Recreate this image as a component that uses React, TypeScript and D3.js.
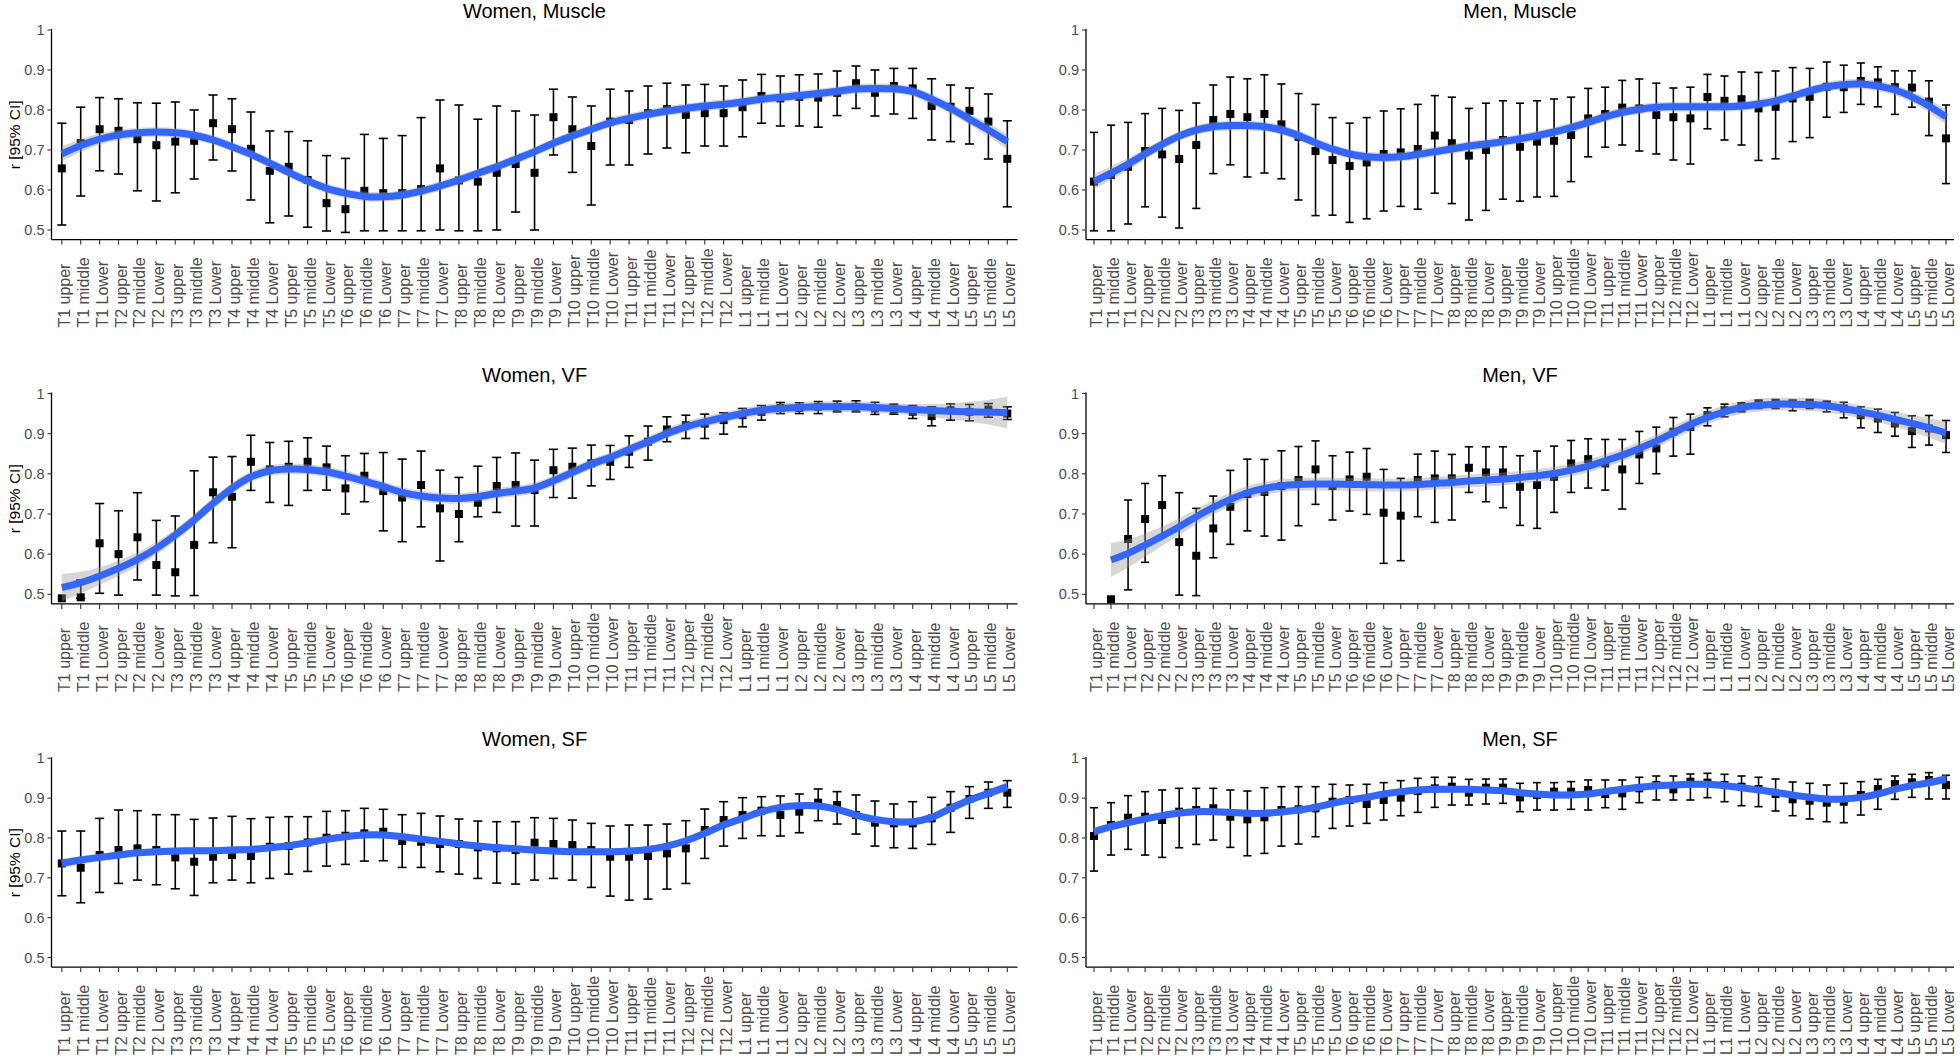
import React from "react";
import * as d3 from "d3";

const categories = [
  "T1 upper", "T1 middle", "T1 Lower", "T2 upper", "T2 middle", "T2 Lower",
  "T3 upper", "T3 middle", "T3 Lower", "T4 upper", "T4 middle", "T4 Lower",
  "T5 upper", "T5 middle", "T5 Lower", "T6 upper", "T6 middle", "T6 Lower",
  "T7 upper", "T7 middle", "T7 Lower", "T8 upper", "T8 middle", "T8 Lower",
  "T9 upper", "T9 middle", "T9 Lower", "T10 upper", "T10 middle", "T10 Lower",
  "T11 upper", "T11 middle", "T11 Lower", "T12 upper", "T12 middle", "T12 Lower",
  "L1 upper", "L1 middle", "L1 Lower", "L2 upper", "L2 middle", "L2 Lower",
  "L3 upper", "L3 middle", "L3 Lower", "L4 upper", "L4 middle", "L4 Lower",
  "L5 upper", "L5 middle", "L5 Lower",
];

const yTickValues = [0.5, 0.6, 0.7, 0.8, 0.9, 1];
const yTickLabels = ["0.5", "0.6", "0.7", "0.8", "0.9", "1"];
const yAxisTitle = "r [95% CI]";

// ---------- Women, Muscle ----------
const womenMuscleR = [
  0.654, 0.717, 0.752, 0.748, 0.727, 0.712, 0.721, 0.723, 0.767, 0.752,
  0.703, 0.648, 0.658, 0.625, 0.567, 0.552, 0.598, 0.592, 0.592, 0.602,
  0.654, 0.624, 0.621, 0.643, 0.665, 0.643, 0.782, 0.752, 0.71, 0.771,
  0.775, 0.792, 0.802, 0.788, 0.792, 0.792, 0.807, 0.835, 0.829, 0.833,
  0.831, 0.843, 0.867, 0.843, 0.86, 0.854, 0.81, 0.808, 0.798, 0.771,
  0.678,
];
const womenMuscleLo = [
  0.5125, 0.585, 0.648, 0.64, 0.598, 0.5725, 0.593, 0.6275, 0.675, 0.6475,
  0.575, 0.518, 0.535, 0.507, 0.4975, 0.494, 0.498, 0.498, 0.498, 0.498,
  0.5, 0.498, 0.498, 0.5, 0.545, 0.5, 0.6875, 0.644, 0.5625, 0.6625,
  0.6625, 0.69, 0.705, 0.693, 0.71, 0.71, 0.733, 0.767, 0.76, 0.76,
  0.757, 0.786, 0.804, 0.785, 0.79, 0.779, 0.725, 0.721, 0.715, 0.6775,
  0.558,
];
const womenMuscleHi = [
  0.767, 0.807, 0.831, 0.828, 0.818, 0.817, 0.82, 0.8, 0.8375, 0.828,
  0.795, 0.7475, 0.746, 0.723, 0.686, 0.679, 0.739, 0.729, 0.736, 0.781,
  0.825, 0.8125, 0.777, 0.81, 0.7975, 0.7875, 0.852, 0.8325, 0.81, 0.852,
  0.8475, 0.86, 0.867, 0.8625, 0.864, 0.86, 0.875, 0.889, 0.885, 0.888,
  0.89, 0.8975, 0.91, 0.9, 0.904, 0.904, 0.878, 0.8625, 0.855, 0.84,
  0.773,
];
const womenMuscleFit = [
  0.69, 0.711, 0.727, 0.7375, 0.743, 0.745, 0.743, 0.737, 0.725, 0.708,
  0.689, 0.667, 0.644, 0.6225, 0.604, 0.592, 0.584, 0.583, 0.5875, 0.597,
  0.61, 0.625, 0.642, 0.658, 0.677, 0.696, 0.717, 0.735, 0.752, 0.768,
  0.779, 0.789, 0.7975, 0.804, 0.81, 0.814, 0.82, 0.827, 0.832, 0.836,
  0.841, 0.847, 0.8525, 0.854, 0.853, 0.846, 0.827, 0.804, 0.777, 0.75,
  0.721,
];
const womenMuscleSe = [
  0.019, 0.016, 0.014, 0.013, 0.012, 0.012, 0.012, 0.012, 0.012, 0.012,
  0.012, 0.012, 0.012, 0.012, 0.012, 0.012, 0.012, 0.012, 0.012, 0.012,
  0.012, 0.012, 0.012, 0.012, 0.012, 0.012, 0.012, 0.012, 0.012, 0.012,
  0.012, 0.012, 0.012, 0.012, 0.012, 0.012, 0.012, 0.012, 0.012, 0.012,
  0.012, 0.012, 0.012, 0.012, 0.012, 0.012, 0.013, 0.013, 0.014, 0.016,
  0.019,
];

// ---------- Men, Muscle ----------
const menMuscleR = [
  0.621, 0.6375, 0.658, 0.6975, 0.689, 0.6775, 0.7125, 0.775, 0.79, 0.782,
  0.79, 0.764, 0.733, 0.6975, 0.675, 0.66, 0.669, 0.69, 0.694, 0.7025,
  0.736, 0.717, 0.686, 0.7, 0.725, 0.708, 0.721, 0.723, 0.7375, 0.779,
  0.79, 0.806, 0.804, 0.7875, 0.782, 0.779, 0.8325, 0.823, 0.827, 0.804,
  0.808, 0.829, 0.833, 0.858, 0.857, 0.8725, 0.869, 0.857, 0.856, 0.821,
  0.729,
];
const menMuscleLo = [
  0.498, 0.498, 0.515, 0.558, 0.532, 0.505, 0.554, 0.641, 0.663, 0.6325,
  0.6425, 0.628, 0.575, 0.536, 0.537, 0.519, 0.528, 0.5475, 0.559, 0.552,
  0.592, 0.566, 0.525, 0.549, 0.577, 0.572, 0.5825, 0.584, 0.621, 0.683,
  0.707, 0.7125, 0.6975, 0.69, 0.675, 0.665, 0.753, 0.725, 0.7125, 0.674,
  0.678, 0.721, 0.731, 0.782, 0.794, 0.814, 0.808, 0.789, 0.807, 0.736,
  0.616,
];
const menMuscleHi = [
  0.744, 0.762, 0.769, 0.791, 0.804, 0.799, 0.8175, 0.8625, 0.8825, 0.878,
  0.888, 0.865, 0.841, 0.814, 0.781, 0.767, 0.781, 0.7975, 0.803, 0.814,
  0.836, 0.832, 0.804, 0.817, 0.823, 0.817, 0.823, 0.8275, 0.832, 0.854,
  0.857, 0.874, 0.8775, 0.867, 0.855, 0.857, 0.889, 0.885, 0.895, 0.894,
  0.8975, 0.906, 0.904, 0.92, 0.912, 0.9175, 0.908, 0.898, 0.898, 0.873,
  0.8125,
];
const menMuscleFit = [
  0.621, 0.642, 0.665, 0.69, 0.714, 0.735, 0.75, 0.758, 0.761, 0.761,
  0.758, 0.75, 0.736, 0.718, 0.702, 0.69, 0.683, 0.681, 0.683, 0.689,
  0.696, 0.7025, 0.71, 0.715, 0.721, 0.728, 0.736, 0.745, 0.756, 0.769,
  0.783, 0.794, 0.802, 0.807, 0.808, 0.808, 0.808, 0.808, 0.81, 0.815,
  0.823, 0.835, 0.8475, 0.858, 0.864, 0.865, 0.86, 0.85, 0.833, 0.81,
  0.783,
];
const menMuscleSe = [
  0.02, 0.017, 0.015, 0.013, 0.012, 0.012, 0.012, 0.012, 0.012, 0.012,
  0.012, 0.012, 0.012, 0.012, 0.012, 0.012, 0.012, 0.012, 0.012, 0.012,
  0.012, 0.012, 0.012, 0.012, 0.012, 0.012, 0.012, 0.012, 0.012, 0.012,
  0.012, 0.012, 0.012, 0.012, 0.012, 0.012, 0.012, 0.012, 0.012, 0.012,
  0.012, 0.012, 0.012, 0.012, 0.012, 0.012, 0.013, 0.013, 0.014, 0.016,
  0.019,
];

// ---------- Women, VF ----------
const womenVfR = [
  0.49, 0.4925, 0.627, 0.6, 0.642, 0.573, 0.555, 0.623, 0.754, 0.743,
  0.83, 0.811, 0.8176, 0.83, 0.816, 0.7637, 0.7952, 0.757, 0.741, 0.772,
  0.714, 0.7, 0.728, 0.7695, 0.772, 0.7595, 0.809, 0.8176, 0.826, 0.83,
  0.855, 0.88, 0.9104, 0.921, 0.925, 0.9337, 0.946, 0.9544, 0.964, 0.964,
  0.9668, 0.9668, 0.9668, 0.9627, 0.96, 0.9544, 0.9436, 0.9585, 0.9544, 0.96,
  0.95,
];
const womenVfLo = [
  null, 0.49, 0.5025, 0.498, 0.5357, 0.498, 0.496, 0.497, 0.6285, 0.616,
  0.7587, 0.7288, 0.7214, 0.7587, 0.7595, 0.7, 0.7305, 0.658, 0.631, 0.668,
  0.583, 0.631, 0.693, 0.704, 0.67, 0.67, 0.741, 0.7396, 0.77, 0.786,
  0.816, 0.834, 0.88, 0.888, 0.888, 0.8988, 0.917, 0.9337, 0.95, 0.95,
  0.95, 0.9544, 0.9544, 0.948, 0.9486, 0.9378, 0.9196, 0.9337, 0.932, 0.941,
  0.9353,
];
const womenVfHi = [
  null, 0.5357, 0.726, 0.708, 0.753, 0.684, 0.695, 0.8076, 0.8416, 0.843,
  0.896, 0.878, 0.881, 0.8897, 0.869, 0.845, 0.8507, 0.853, 0.8366, 0.8566,
  0.809, 0.791, 0.819, 0.8408, 0.852, 0.834, 0.861, 0.864, 0.8715, 0.8706,
  0.8947, 0.919, 0.942, 0.946, 0.9486, 0.952, 0.9627, 0.97, 0.9776, 0.977,
  0.98, 0.981, 0.9818, 0.978, 0.9735, 0.97, 0.9668, 0.974, 0.9726, 0.975,
  0.9668,
];
const womenVfFit = [
  0.5166, 0.529, 0.5456, 0.5647, 0.587, 0.6144, 0.6476, 0.685, 0.7264, 0.7637,
  0.7927, 0.8076, 0.8118, 0.811, 0.805, 0.7944, 0.782, 0.768, 0.7537, 0.7446,
  0.7396, 0.7388, 0.743, 0.7512, 0.757, 0.7653, 0.7828, 0.8035, 0.8242, 0.8408,
  0.8607, 0.8798, 0.9005, 0.917, 0.9295, 0.9403, 0.9502, 0.9585, 0.9627, 0.9652,
  0.9668, 0.9668, 0.9668, 0.9652, 0.9627, 0.96, 0.9577, 0.956, 0.9544, 0.9536,
  0.952,
];
const womenVfSe = [
  0.034, 0.027, 0.022, 0.019, 0.017, 0.016, 0.015, 0.015, 0.014, 0.014,
  0.013, 0.013, 0.013, 0.013, 0.013, 0.013, 0.013, 0.013, 0.013, 0.013,
  0.013, 0.013, 0.013, 0.013, 0.013, 0.013, 0.013, 0.013, 0.013, 0.013,
  0.013, 0.013, 0.013, 0.013, 0.013, 0.013, 0.013, 0.013, 0.013, 0.013,
  0.013, 0.013, 0.013, 0.013, 0.013, 0.014, 0.016, 0.02, 0.025, 0.031,
  0.04,
];

// ---------- Men, VF ----------
const menVfR = [
  null, 0.4876, 0.6377, 0.6874, 0.7222, 0.63, 0.596, 0.664, 0.718, 0.7496,
  0.755, 0.7695, 0.7844, 0.811, 0.7695, 0.786, 0.7927, 0.7032, 0.6957, 0.7844,
  0.7886, 0.7886, 0.815, 0.8035, 0.8035, 0.7678, 0.772, 0.7927, 0.8259, 0.8366,
  0.8259, 0.811, 0.8483, 0.8632, 0.9047, 0.917, 0.946, 0.9585, 0.9668, 0.975,
  0.975, 0.975, 0.975, 0.971, 0.9627, 0.946, 0.9378, 0.9254, 0.9063, 0.913,
  0.8963,
];
const menVfLo = [
  null, null, 0.511, 0.5796, 0.645, 0.498, 0.4967, 0.591, 0.6244, 0.658,
  0.645, 0.635, 0.6708, 0.724, 0.685, 0.7073, 0.699, 0.5771, 0.5837, 0.6932,
  0.679, 0.685, 0.7537, 0.7305, 0.7156, 0.6716, 0.6642, 0.704, 0.7537, 0.7645,
  0.7595, 0.7123, 0.776, 0.8002, 0.8441, 0.849, 0.9196, 0.942, 0.9544, 0.9627,
  0.9627, 0.957, 0.9627, 0.9544, 0.9395, 0.9146, 0.903, 0.8938, 0.8657, 0.8715,
  0.8532,
];
const menVfHi = [
  null, null, 0.7347, 0.776, 0.7952, 0.753, 0.714, 0.7446, 0.8085, 0.8366,
  0.8358, 0.8574, 0.868, 0.882, 0.845, 0.854, 0.863, 0.811, 0.7886, 0.849,
  0.8566, 0.8483, 0.8673, 0.8673, 0.8673, 0.845, 0.8566, 0.869, 0.883, 0.8872,
  0.8856, 0.8856, 0.9055, 0.9162, 0.9403, 0.9486, 0.9643, 0.9735, 0.9768, 0.9834,
  0.985, 0.9834, 0.985, 0.981, 0.978, 0.9668, 0.961, 0.9527, 0.9444, 0.9453,
  0.9328,
];
const menVfFit = [
  null, 0.5854, 0.602, 0.6227, 0.645, 0.6683, 0.6932, 0.7164, 0.7363, 0.7529,
  0.7637, 0.7703, 0.7736, 0.7745, 0.7745, 0.7736, 0.7728, 0.772, 0.772, 0.7736,
  0.7761, 0.7786, 0.782, 0.7844, 0.787, 0.791, 0.7952, 0.801, 0.8093, 0.8192,
  0.8325, 0.8466, 0.8632, 0.8814, 0.9022, 0.9229, 0.9403, 0.9544, 0.9652, 0.971,
  0.9735, 0.9735, 0.9726, 0.9693, 0.9627, 0.9544, 0.946, 0.9353, 0.9254, 0.9146,
  0.9022,
];
const menVfSe = [
  null, 0.042, 0.035, 0.029, 0.024, 0.021, 0.019, 0.018, 0.017, 0.017,
  0.016, 0.016, 0.016, 0.016, 0.016, 0.016, 0.016, 0.016, 0.016, 0.016,
  0.016, 0.016, 0.016, 0.016, 0.016, 0.016, 0.016, 0.016, 0.016, 0.016,
  0.016, 0.016, 0.016, 0.016, 0.016, 0.016, 0.016, 0.016, 0.016, 0.016,
  0.016, 0.016, 0.016, 0.016, 0.016, 0.016, 0.017, 0.019, 0.021, 0.024,
  0.028,
];

// ---------- Women, SF ----------
const womenSfR = [
  0.736, 0.7253, 0.757, 0.7697, 0.7739, 0.7697, 0.7513, 0.7404, 0.7529, 0.757,
  0.7546, 0.778, 0.7797, 0.7889, 0.8007, 0.8057, 0.8116, 0.8157, 0.7923, 0.7906,
  0.7848, 0.7848, 0.7764, 0.7739, 0.7697, 0.7881, 0.7848, 0.7822, 0.7697, 0.7529,
  0.7529, 0.7546, 0.7613, 0.7739, 0.8199, 0.845, 0.8576, 0.8685, 0.8576, 0.866,
  0.8886, 0.8827, 0.8576, 0.8384, 0.8367, 0.8367, 0.8492, 0.876, 0.8978, 0.9137,
  0.9137,
];
const womenSfLo = [
  0.655, 0.6374, 0.6633, 0.686, 0.6943, 0.6826, 0.6725, 0.6558, 0.6876, 0.6943,
  0.6876, 0.6985, 0.7094, 0.7161, 0.7295, 0.7337, 0.742, 0.7429, 0.7261, 0.7261,
  0.7152, 0.7094, 0.6985, 0.6868, 0.6843, 0.6943, 0.6985, 0.6943, 0.6759, 0.6541,
  0.644, 0.6466, 0.6717, 0.6859, 0.7487, 0.7797, 0.799, 0.8057, 0.8049, 0.8132,
  0.8434, 0.835, 0.8099, 0.7797, 0.7755, 0.7739, 0.7839, 0.8141, 0.8492, 0.8744,
  0.8769,
];
const womenSfHi = [
  0.8174, 0.8174, 0.8492, 0.8702, 0.8685, 0.8585, 0.8585, 0.8467, 0.85, 0.8543,
  0.8484, 0.8518, 0.8534, 0.8534, 0.8668, 0.8685, 0.8744, 0.8719, 0.8585, 0.8618,
  0.8551, 0.8476, 0.8425, 0.8409, 0.8409, 0.8509, 0.8492, 0.8451, 0.8367, 0.83,
  0.8325, 0.8325, 0.835, 0.8434, 0.8727, 0.8911, 0.9012, 0.9037, 0.9054, 0.9104,
  0.923, 0.9163, 0.9079, 0.8928, 0.8853, 0.8911, 0.902, 0.9163, 0.9288, 0.9405,
  0.9439,
];
const womenSfFit = [
  0.7362, 0.7446, 0.7513, 0.7571, 0.763, 0.7655, 0.7672, 0.768, 0.768, 0.7697,
  0.7714, 0.7755, 0.7806, 0.7881, 0.7965, 0.8032, 0.8074, 0.8074, 0.8032, 0.7973,
  0.7915, 0.7848, 0.7797, 0.7755, 0.773, 0.7697, 0.7672, 0.7655, 0.7655, 0.7655,
  0.7672, 0.7714, 0.7797, 0.7931, 0.8116, 0.8325, 0.8492, 0.866, 0.8769, 0.8811,
  0.8802, 0.8719, 0.8576, 0.8467, 0.8409, 0.8409, 0.8518, 0.8744, 0.8953, 0.912,
  0.9288,
];
const womenSfSe = [
  0.012, 0.01, 0.009, 0.009, 0.009, 0.009, 0.009, 0.009, 0.009, 0.009,
  0.009, 0.009, 0.009, 0.009, 0.009, 0.009, 0.009, 0.009, 0.009, 0.009,
  0.009, 0.009, 0.009, 0.009, 0.009, 0.009, 0.009, 0.009, 0.009, 0.009,
  0.009, 0.009, 0.009, 0.009, 0.009, 0.009, 0.009, 0.009, 0.009, 0.009,
  0.009, 0.009, 0.009, 0.009, 0.009, 0.009, 0.009, 0.009, 0.009, 0.01,
  0.012,
];

// ---------- Men, SF ----------
const menSfR = [
  0.8049, 0.8325, 0.8509, 0.8534, 0.8451, 0.866, 0.8702, 0.8744, 0.8534, 0.8467,
  0.8518, 0.8702, 0.8719, 0.8744, 0.8911, 0.8953, 0.8853, 0.8953, 0.9012, 0.9179,
  0.9246, 0.9288, 0.9137, 0.9263, 0.9263, 0.902, 0.9079, 0.9163, 0.9163, 0.9204,
  0.9104, 0.912, 0.9246, 0.933, 0.9221, 0.9414, 0.9389, 0.933, 0.9288, 0.9229,
  0.9104, 0.897, 0.8936, 0.8886, 0.8911, 0.9079, 0.9229, 0.9355, 0.9397, 0.9456,
  0.933,
];
const menSfLo = [
  0.7169, 0.7571, 0.7714, 0.7571, 0.7513, 0.7755, 0.7839, 0.7948, 0.7764, 0.7554,
  0.7613, 0.7797, 0.7848, 0.8032, 0.8241, 0.83, 0.8367, 0.8451, 0.8559, 0.8643,
  0.8769, 0.8827, 0.8827, 0.8853, 0.887, 0.866, 0.8702, 0.8702, 0.8719, 0.8702,
  0.876, 0.8719, 0.8886, 0.8953, 0.8953, 0.8953, 0.9012, 0.8911, 0.8811, 0.8786,
  0.8677, 0.8559, 0.8476, 0.8409, 0.8384, 0.8576, 0.8719, 0.897, 0.902, 0.8978,
  0.8978,
];
const menSfHi = [
  0.876, 0.8886, 0.9062, 0.9163, 0.9204, 0.9246, 0.9246, 0.9246, 0.9204, 0.9179,
  0.9263, 0.9288, 0.9288, 0.9288, 0.9347, 0.933, 0.9347, 0.9389, 0.9439, 0.9497,
  0.9523, 0.9523, 0.9472, 0.948, 0.948, 0.9372, 0.9389, 0.9389, 0.9414, 0.9456,
  0.9456, 0.9456, 0.9523, 0.9556, 0.9556, 0.9606, 0.9623, 0.9598, 0.9556, 0.9523,
  0.948, 0.9405, 0.9372, 0.933, 0.9372, 0.9414, 0.9472, 0.9556, 0.9598, 0.964,
  0.9573,
];
const menSfFit = [
  0.8157, 0.8283, 0.8384, 0.8476, 0.856, 0.8626, 0.866, 0.866, 0.8643, 0.8618,
  0.8618, 0.8652, 0.8702, 0.8769, 0.8869, 0.8953, 0.902, 0.9104, 0.9163, 0.9204,
  0.9221, 0.9221, 0.9221, 0.9204, 0.9188, 0.9137, 0.9104, 0.9079, 0.9079, 0.9104,
  0.9163, 0.9221, 0.9271, 0.9313, 0.933, 0.9347, 0.9347, 0.9313, 0.9263, 0.9204,
  0.9146, 0.9079, 0.902, 0.8978, 0.8978, 0.902, 0.9104, 0.9221, 0.9313, 0.9389,
  0.9481,
];
const menSfSe = [
  0.011, 0.01, 0.009, 0.009, 0.009, 0.009, 0.009, 0.009, 0.009, 0.009,
  0.009, 0.009, 0.009, 0.009, 0.009, 0.009, 0.009, 0.009, 0.009, 0.009,
  0.009, 0.009, 0.009, 0.009, 0.009, 0.009, 0.009, 0.009, 0.009, 0.009,
  0.009, 0.009, 0.009, 0.009, 0.009, 0.009, 0.009, 0.009, 0.009, 0.009,
  0.009, 0.009, 0.009, 0.009, 0.009, 0.009, 0.009, 0.009, 0.009, 0.01,
  0.011,
];

const panels = [
  { title: "Women, Muscle", col: 0, row: 0, r: womenMuscleR, lo: womenMuscleLo, hi: womenMuscleHi, fit: womenMuscleFit, se: womenMuscleSe },
  { title: "Men, Muscle", col: 1, row: 0, r: menMuscleR, lo: menMuscleLo, hi: menMuscleHi, fit: menMuscleFit, se: menMuscleSe },
  { title: "Women, VF", col: 0, row: 1, r: womenVfR, lo: womenVfLo, hi: womenVfHi, fit: womenVfFit, se: womenVfSe },
  { title: "Men, VF", col: 1, row: 1, r: menVfR, lo: menVfLo, hi: menVfHi, fit: menVfFit, se: menVfSe },
  { title: "Women, SF", col: 0, row: 2, r: womenSfR, lo: womenSfLo, hi: womenSfHi, fit: womenSfFit, se: womenSfSe },
  { title: "Men, SF", col: 1, row: 2, r: menSfR, lo: menSfLo, hi: menSfHi, fit: menSfFit, se: menSfSe },
];

// layout
const COLS = [
  { axisX: 51.5, x0: 61.8, x1: 1007.3, right: 1017.5 },
  { axisX: 1086, x0: 1094, x1: 1946, right: 1954 },
];
const ROWS = [
  { y1: 30, y05: 230 },
  { y1: 393.5, y05: 594.3 },
  { y1: 758.3, y05: 957.5 },
];

const FONT = "'Liberation Sans', Arial, Helvetica, sans-serif";
const BLUE = "#3366FF";
const TICK_FONT = 14.5;
const XLAB_FONT = 16;

function Panel({ p }: { p: any }) {
  const c = COLS[p.col];
  const rw = ROWS[p.row];
  const x = d3.scalePoint<string>().domain(categories).range([c.x0, c.x1]);
  const y = d3.scaleLinear().domain([0.5, 1]).range([rw.y05, rw.y1]);
  const axisY = y(0.476);
  const step = x.step();
  const capW = step * 0.48;
  const idx = d3.range(categories.length);
  const fit: (number | null)[] = p.fit;
  const se: (number | null)[] = p.se;

  const line = d3
    .line<number>()
    .defined((i) => fit[i] != null)
    .x((i) => x(categories[i]) as number)
    .y((i) => y(fit[i] as number))
    .curve(d3.curveCatmullRom.alpha(0.5));
  const area = d3
    .area<number>()
    .defined((i) => fit[i] != null)
    .x((i) => x(categories[i]) as number)
    .y0((i) => y((fit[i] as number) - (se[i] as number)))
    .y1((i) => y((fit[i] as number) + (se[i] as number)))
    .curve(d3.curveCatmullRom.alpha(0.5));

  const labelBottom = axisY + 88;

  return (
    <g>
      <text
        x={(c.axisX + c.right) / 2}
        y={rw.y1 - 12}
        textAnchor="middle"
        fontFamily={FONT}
        fontSize={20}
        fill="#000"
      >
        {p.title}
      </text>

      {/* error bars */}
      {idx.map((i) => {
        const lo = p.lo[i];
        const hi = p.hi[i];
        if (lo == null || hi == null) return null;
        const cx = x(categories[i]) as number;
        return (
          <g key={"eb" + i} stroke="#000" strokeWidth={1.6} fill="none">
            <line x1={cx} x2={cx} y1={y(lo)} y2={y(hi)} />
            <line x1={cx - capW / 2} x2={cx + capW / 2} y1={y(lo)} y2={y(lo)} />
            <line x1={cx - capW / 2} x2={cx + capW / 2} y1={y(hi)} y2={y(hi)} />
          </g>
        );
      })}
      {/* points */}
      {idx.map((i) => {
        const v = p.r[i];
        if (v == null) return null;
        const cx = x(categories[i]) as number;
        return <rect key={"pt" + i} x={cx - 4} y={y(v) - 4} width={8} height={8} fill="#000" />;
      })}

      {/* smooth */}
      <path d={area(idx) || ""} fill="#999999" fillOpacity={0.4} stroke="none" />
      <path d={line(idx) || ""} fill="none" stroke={BLUE} strokeWidth={7} />

      {/* y axis */}
      <line x1={c.axisX} x2={c.axisX} y1={y(1) - 1} y2={axisY} stroke="#000" strokeWidth={1.3} />
      {yTickValues.map((v, k) => (
        <g key={"yt" + k}>
          <line x1={c.axisX - 4} x2={c.axisX} y1={y(v)} y2={y(v)} stroke="#333" strokeWidth={1.1} />
          <text
            x={c.axisX - 7}
            y={y(v)}
            dy="0.35em"
            textAnchor="end"
            fontFamily={FONT}
            fontSize={TICK_FONT}
            fill="#4D4D4D"
          >
            {yTickLabels[k]}
          </text>
        </g>
      ))}

      {/* x axis */}
      <line x1={c.axisX} x2={c.right} y1={axisY} y2={axisY} stroke="#000" strokeWidth={1.3} />
      {categories.map((cat, i) => {
        const cx = x(cat) as number;
        return (
          <g key={"xt" + i}>
            <line x1={cx} x2={cx} y1={axisY} y2={axisY + 5} stroke="#333" strokeWidth={1.1} />
            <text
              transform={`translate(${cx + 8},${labelBottom}) rotate(-90)`}
              textAnchor="start"
              fontFamily={FONT}
              fontSize={XLAB_FONT}
              fill="#4D4D4D"
            >
              {cat}
            </text>
          </g>
        );
      })}

      {p.col === 0 && (
        <text
          transform={`translate(15,${(y(1) + axisY) / 2}) rotate(-90)`}
          textAnchor="middle"
          dy="0.35em"
          fontFamily={FONT}
          fontSize={15.5}
          fill="#000"
        >
          {yAxisTitle}
        </text>
      )}
    </g>
  );
}

export default function App() {
  return (
    <svg
      width={1960}
      height={1060}
      viewBox="0 0 1960 1060"
      style={{ position: "absolute", left: 0, top: 0, display: "block", background: "#fff" }}
    >
      <rect x={0} y={0} width={1960} height={1060} fill="#fff" />
      {panels.map((p, k) => (
        <Panel key={k} p={p} />
      ))}
    </svg>
  );
}
